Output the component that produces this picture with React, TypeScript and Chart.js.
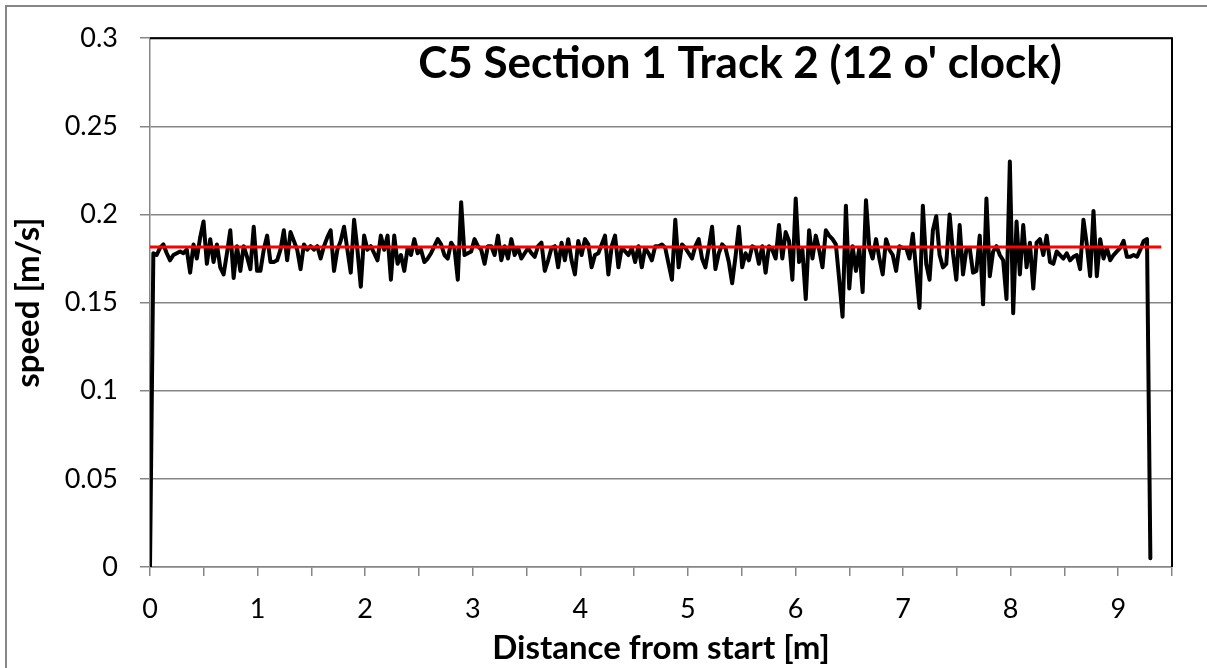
import React, { useEffect, useRef } from "react";
import { Chart, registerables } from "chart.js";

Chart.register(...registerables);

const CHART_TITLE = "C5 Section 1 Track 2 (12 o' clock)";
const X_TITLE = "Distance from start [m]";
const Y_TITLE = "speed [m/s]";

// sampling interval of the measured track [m]
const SAMPLE_STEP_M = 0.0311;

const SPEED_SEG_1 = [
  0, 0.178, 0.177, 0.181, 0.183, 0.178, 0.174, 0.177, 0.178, 0.179,
  0.178, 0.180, 0.167, 0.183, 0.175, 0.187, 0.196, 0.172, 0.186, 0.173,
  0.183, 0.170, 0.166, 0.178, 0.191, 0.164, 0.182, 0.168, 0.182, 0.176,
  0.169, 0.193, 0.168, 0.168, 0.180, 0.188, 0.173, 0.173, 0.174, 0.180,
  0.191, 0.174, 0.190, 0.185, 0.180, 0.169, 0.183, 0.180, 0.182, 0.180,
  0.182, 0.175, 0.182, 0.187, 0.191, 0.168, 0.180, 0.185, 0.193, 0.180,
  0.167, 0.197, 0.180, 0.159,
];
const SPEED_SEG_2 = [
  0.188, 0.180, 0.182, 0.178, 0.174, 0.188, 0.180, 0.188, 0.163, 0.188,
  0.172, 0.177, 0.168, 0.181, 0.177, 0.186, 0.178, 0.180, 0.173, 0.175,
  0.178, 0.182, 0.186, 0.183, 0.177, 0.175, 0.184, 0.181, 0.163, 0.207,
  0.177, 0.178, 0.179, 0.186, 0.182, 0.180, 0.172, 0.182, 0.182, 0.177,
  0.188, 0.174, 0.182, 0.175, 0.186, 0.177, 0.181, 0.175, 0.178, 0.181,
  0.178, 0.176, 0.182, 0.184, 0.168, 0.174, 0.181, 0.182,
];
const SPEED_SEG_3 = [
  0.170, 0.184, 0.174, 0.186, 0.174, 0.166, 0.185, 0.177, 0.186, 0.183,
  0.170, 0.177, 0.178, 0.183, 0.188, 0.166, 0.182, 0.188, 0.170, 0.181,
  0.179, 0.177, 0.181, 0.173, 0.182, 0.170, 0.181, 0.178, 0.174, 0.182,
  0.182, 0.183, 0.181, 0.172, 0.163, 0.197, 0.170, 0.183, 0.181, 0.178,
  0.175, 0.182, 0.186, 0.175, 0.170, 0.181, 0.193, 0.169, 0.178, 0.183,
  0.181, 0.173, 0.161, 0.176, 0.193, 0.170, 0.178, 0.174, 0.182, 0.181,
];
const SPEED_SEG_4 = [
  0.172, 0.182, 0.167, 0.182, 0.180, 0.175, 0.194, 0.175, 0.190, 0.185,
  0.163, 0.209, 0.173, 0.180, 0.152, 0.191, 0.175, 0.188, 0.180, 0.170,
  0.191, 0.188, 0.186, 0.183, 0.163, 0.142, 0.205, 0.158, 0.182, 0.168,
  0.181, 0.156, 0.208, 0.181, 0.175, 0.186, 0.175, 0.166, 0.186, 0.180,
  0.177, 0.168, 0.182, 0.181, 0.181, 0.175, 0.189, 0.168, 0.147, 0.205,
  0.172, 0.163, 0.191, 0.199, 0.177, 0.170, 0.172, 0.200, 0.178, 0.163,
  0.194, 0.166, 0.180, 0.181,
];
const SPEED_SEG_5 = [
  0.167, 0.168, 0.188, 0.149, 0.209, 0.165, 0.179, 0.182, 0.177, 0.174,
  0.152, 0.230, 0.144, 0.196, 0.166, 0.194, 0.170, 0.184, 0.158, 0.184,
  0.186, 0.177, 0.188, 0.173, 0.172, 0.179, 0.177, 0.175, 0.178, 0.174,
  0.176, 0.177, 0.169, 0.197, 0.183, 0.165, 0.202, 0.165, 0.186, 0.175,
  0.181, 0.174, 0.177, 0.179, 0.181, 0.185, 0.176, 0.176, 0.177, 0.176,
  0.180, 0.185, 0.186, 0.005,
];

// mean speed line (red)
const MEAN_SPEED = 0.1815;
const MEAN_LINE_DISTANCES = [0, 9.4];

// axes
const X_MIN = 0;
const X_MAX = 9.5;
const X_STEP = 0.5;
const Y_MIN = 0;
const Y_MAX = 0.3;
const Y_STEP = 0.05;

const GRAY = "#868686";
const FONT = "Lato, 'Open Sans', sans-serif";

const framePlugin = {
  id: "frame",
  beforeDraw(chart: any) {
    const { ctx, width, height } = chart;
    ctx.save();
    ctx.fillStyle = "#ffffff";
    ctx.fillRect(0, 0, width, height);
    // outer chart border (only left and top edges are inside the picture)
    ctx.strokeStyle = GRAY;
    ctx.lineWidth = 2;
    ctx.strokeRect(6, 6, width + 20, height + 20);
    ctx.restore();
  },
  afterDraw(chart: any) {
    const { ctx, chartArea } = chart;
    ctx.save();
    ctx.strokeStyle = "#000000";
    ctx.lineWidth = 2;
    ctx.beginPath();
    ctx.moveTo(chartArea.left, chartArea.top);
    ctx.lineTo(chartArea.right, chartArea.top);
    ctx.lineTo(chartArea.right, chartArea.bottom);
    ctx.stroke();
    // chart title inside the plot area
    ctx.fillStyle = "#000000";
    ctx.font = `bold 44px ${FONT}`;
    ctx.textAlign = "center";
    ctx.textBaseline = "middle";
    ctx.fillText(CHART_TITLE, 740, 64);
    ctx.restore();
  },
};

export default function App() {
  const ref = useRef<HTMLCanvasElement | null>(null);

  useEffect(() => {
    if (!ref.current) return;
    const speeds = [
      ...SPEED_SEG_1,
      ...SPEED_SEG_2,
      ...SPEED_SEG_3,
      ...SPEED_SEG_4,
      ...SPEED_SEG_5,
    ];
    const points = speeds.map((v, i) => ({ x: i * SAMPLE_STEP_M, y: v }));
    const meanPoints = MEAN_LINE_DISTANCES.map((d) => ({ x: d, y: MEAN_SPEED }));

    const chart = new Chart(ref.current, {
      type: "line",
      data: {
        datasets: [
          {
            label: "mean",
            data: meanPoints,
            borderColor: "#ff0000",
            borderWidth: 3,
            pointRadius: 0,
            tension: 0,
          },
          {
            label: "speed",
            data: points,
            borderColor: "#000000",
            borderWidth: 4,
            pointRadius: 0,
            tension: 0,
            borderJoinStyle: "round",
            borderCapStyle: "round",
          },
        ],
      },
      options: {
        animation: false,
        responsive: false,
        devicePixelRatio: 1,
        events: [],
        layout: { padding: { left: 0, right: 35, top: 32, bottom: 0 } },
        plugins: {
          legend: { display: false },
          tooltip: { enabled: false },
          title: { display: false },
        },
        scales: {
          x: {
            type: "linear",
            min: X_MIN,
            max: X_MAX,
            afterFit: (s: any) => {
              s.height = 101;
            },
            ticks: {
              stepSize: X_STEP,
              autoSkip: false,
              maxRotation: 0,
              padding: 17,
              color: "#000000",
              font: { family: FONT, size: 27 },
              callback: (v: any) => (Number.isInteger(Number(v)) ? String(v) : ""),
            },
            grid: {
              drawOnChartArea: false,
              drawTicks: true,
              tickLength: 9,
              color: GRAY,
              lineWidth: 1.5,
            },
            border: { color: GRAY, width: 1.5 },
            title: {
              display: true,
              text: X_TITLE,
              color: "#000000",
              font: { family: FONT, size: 33, weight: "bold" },
              padding: { top: 0, bottom: 0 },
            },
          },
          y: {
            min: Y_MIN,
            max: Y_MAX,
            afterFit: (s: any) => {
              s.width = 150;
            },
            ticks: {
              stepSize: Y_STEP,
              padding: 22,
              color: "#000000",
              font: { family: FONT, size: 27 },
              callback: (v: any) => String(Math.round(Number(v) * 100) / 100),
            },
            grid: {
              color: GRAY,
              lineWidth: 1.5,
              tickLength: 10,
            },
            border: { color: GRAY, width: 1.5 },
            title: {
              display: true,
              text: Y_TITLE,
              color: "#000000",
              font: { family: FONT, size: 33, weight: "bold" },
              padding: { top: 9, bottom: 0 },
            },
          },
        },
      },
      plugins: [framePlugin],
    });
    return () => chart.destroy();
  }, []);

  return (
    <div style={{ position: "absolute", left: 0, top: 0, width: 1207, height: 668, background: "#fff" }}>
      <canvas ref={ref} width={1207} height={668} style={{ display: "block", width: 1207, height: 668 }} />
    </div>
  );
}
